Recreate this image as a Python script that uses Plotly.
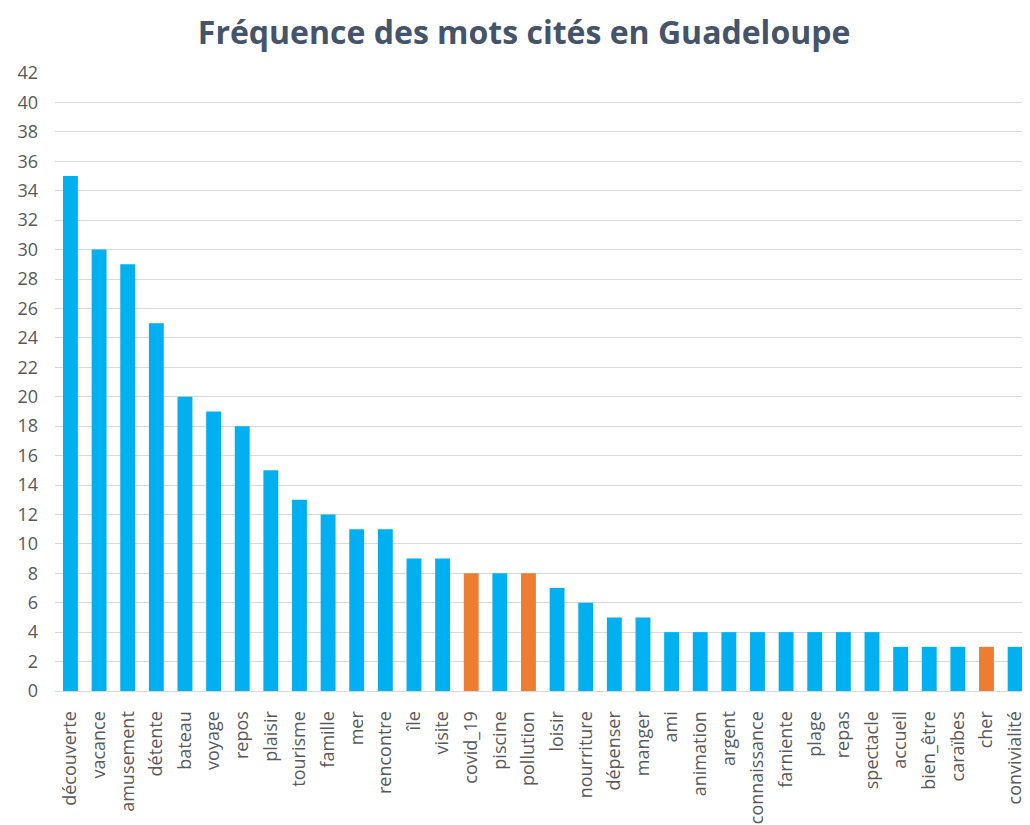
import plotly.graph_objects as go

words = ["découverte", "vacance", "amusement", "détente", "bateau", "voyage", "repos",
         "plaisir", "tourisme", "famille", "mer", "rencontre", "île", "visite", "covid_19",
         "piscine", "pollution", "loisir", "nourriture", "dépenser", "manger", "ami",
         "animation", "argent", "connaissance", "farniente", "plage", "repas", "spectacle",
         "accueil", "bien_être", "caraïbes", "cher", "convivialité"]
counts = [35, 30, 29, 25, 20, 19, 18, 15, 13, 12, 11, 11, 9, 9, 8, 8, 8, 7, 6, 5, 5,
          4, 4, 4, 4, 4, 4, 4, 4, 3, 3, 3, 3, 3]
highlighted = ["covid_19", "pollution", "cher"]

BLUE = "#00B0F0"
ORANGE = "#ED7D31"
colors = [ORANGE if w in highlighted else BLUE for w in words]

fig = go.Figure(go.Bar(x=words, y=counts, marker=dict(color=colors, line=dict(width=0)),
                       width=0.52))

# page has an 8px body margin, so figure is 8px smaller than window
fig.update_layout(
    width=1022, height=817,
    margin=dict(l=47, r=0, t=65, b=134),
    paper_bgcolor="white", plot_bgcolor="white",
    title=dict(text="<b>Fréquence des mots cités en Guadeloupe</b>",
               x=0.505, xanchor="center", y=1 - 25 / 817, yanchor="middle",
               font=dict(family="Open Sans", size=32, color="#44546A")),
    showlegend=False,
    font=dict(family="Open Sans", size=18, color="#595959"),
)
fig.update_xaxes(tickangle=-90, range=[-0.54, 33.52], showgrid=False, automargin=False,
                 showline=True, linecolor="#D9D9D9", linewidth=1, ticks="",
                 ticklabelstandoff=12,
                 tickfont=dict(family="Open Sans", size=18, color="#595959"))
fig.update_yaxes(range=[0, 42], dtick=2, showgrid=True, gridcolor="#D9D9D9",
                 gridwidth=1, zeroline=False, ticks="", ticklabelstandoff=16,
                 automargin=False,
                 tickfont=dict(family="Open Sans", size=18, color="#595959"))

fig.write_html("out.html")
